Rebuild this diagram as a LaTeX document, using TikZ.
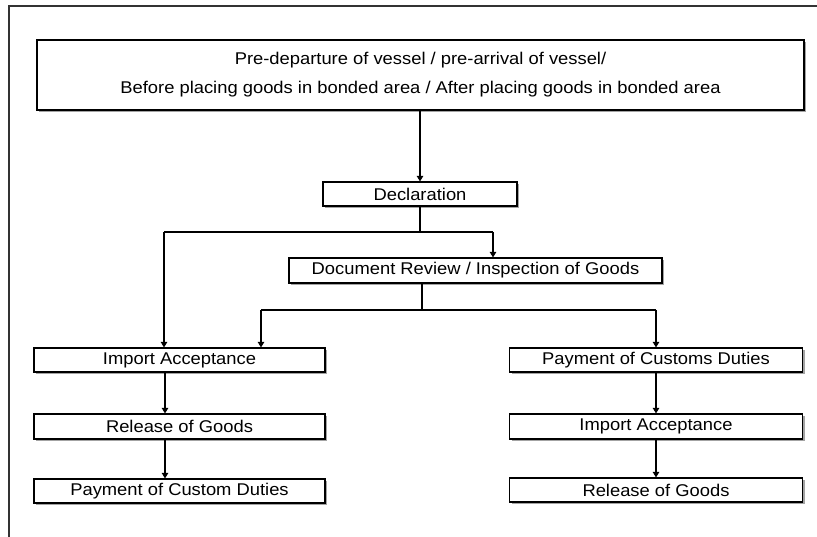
\documentclass[tikz,border=0pt]{standalone}
\usepackage{fontspec}
\setmainfont{Liberation Sans}[FakeStretch=1.08]
\usetikzlibrary{arrows.meta,shadows}
\begin{document}
\begin{tikzpicture}[x=1pt,y=-1pt,
  box/.style={draw=black,line width=1.2pt,fill=white,rectangle,inner sep=0pt,
    drop shadow={shadow xshift=2.2pt,shadow yshift=-2.2pt,fill=black!45,opacity=0.8},
    font=\fontsize{17}{20}\selectfont},
  conn/.style={line width=1.1pt},
  arr/.style={conn,-{Triangle[width=6.5pt,length=5.5pt]}},
  frame/.style={line width=1.1pt,black!80}]
\useasboundingbox (0,0) rectangle (817,537);
\draw[frame] (9,537) -- (9,6) -- (817,6);
% nodes
\node[box,minimum width=767pt,minimum height=70pt,align=center,
  font=\fontsize{17}{29}\selectfont] (top) at (420.5,75)
  {Pre-departure of vessel / pre-arrival of vessel/\\Before placing goods in bonded area / After placing goods in bonded area};
\node[box,minimum width=194pt,minimum height=24pt] (decl) at (420,194) {Declaration};
\node[box,minimum width=373pt,minimum height=25pt] (doc) at (475.5,270.5) {Document Review / Inspection of Goods};
\node[box,minimum width=291pt,minimum height=24pt] (impL) at (179.5,360) {Import Acceptance};
\node[box,minimum width=291pt,minimum height=25pt] (relL) at (179.5,426.5) {Release of Goods};
\node[box,minimum width=291pt,minimum height=24pt] (payL) at (179.5,491) {Payment of Custom Duties};
\node[box,minimum width=293pt,minimum height=24pt] (payR) at (656,360) {Payment of Customs Duties};
\node[box,minimum width=293pt,minimum height=25pt] (impR) at (656,426.5) {Import Acceptance};
\node[box,minimum width=293pt,minimum height=24pt] (relR) at (656,490) {Release of Goods};
% junctions
\coordinate (jL) at (164,232);
\coordinate (jR) at (493,232);
\coordinate (dsplit) at (422,310);
\coordinate (sL) at (261,310);
\coordinate (sR) at (656,310);
\coordinate (cL) at (165,0);
% connectors
\draw[arr] (top.south -| decl.north) -- (decl.north);
\draw[conn] (decl.south) -- (decl.south |- jL);
\draw[conn] (jL) -- (jR);
\draw[arr] (jR) -- (jR |- doc.north);
\draw[arr] (jL) -- (jL |- impL.north);
\draw[conn] (dsplit |- doc.south) -- (dsplit);
\draw[conn] (sL) -- (sR);
\draw[arr] (sL) -- (sL |- impL.north);
\draw[arr] (sR) -- (payR.north);
\draw[arr] (impL.south -| cL) -- (relL.north -| cL);
\draw[arr] (relL.south -| cL) -- (payL.north -| cL);
\draw[arr] (payR.south) -- (impR.north);
\draw[arr] (impR.south) -- (relR.north);
\end{tikzpicture}
\end{document}
